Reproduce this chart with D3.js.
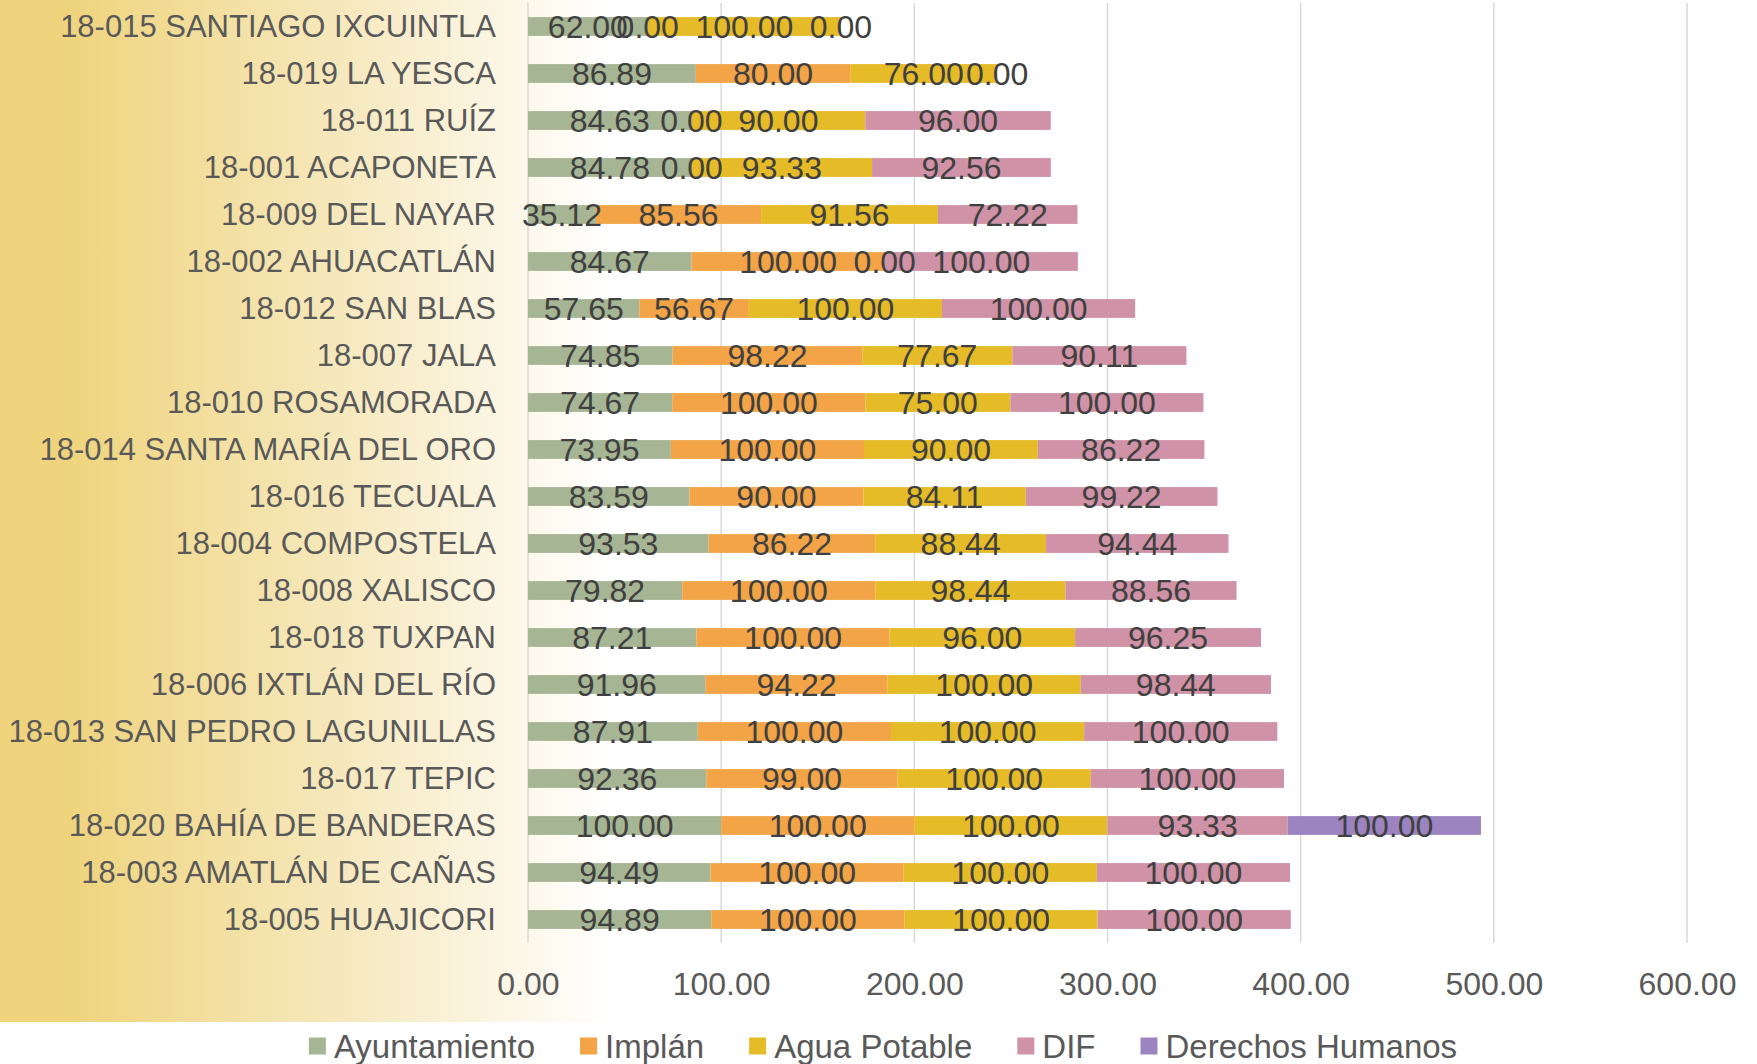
<!DOCTYPE html>
<html>
<head>
<meta charset="utf-8">
<script src="https://cdn.jsdelivr.net/npm/d3@7"></script>
<style>
  html, body { margin: 0; padding: 0; background: #ffffff; }
  svg { display: block; font-family: "Liberation Sans", Arial, sans-serif; }
</style>
</head>
<body>
<svg id="chart" width="1757" height="1064"></svg>
<script>
const categories = [
  "18-015 SANTIAGO IXCUINTLA",
  "18-019 LA YESCA",
  "18-011 RUÍZ",
  "18-001 ACAPONETA",
  "18-009 DEL NAYAR",
  "18-002 AHUACATLÁN",
  "18-012 SAN BLAS",
  "18-007 JALA",
  "18-010 ROSAMORADA",
  "18-014 SANTA MARÍA DEL ORO",
  "18-016 TECUALA",
  "18-004 COMPOSTELA",
  "18-008 XALISCO",
  "18-018 TUXPAN",
  "18-006 IXTLÁN DEL RÍO",
  "18-013 SAN PEDRO LAGUNILLAS",
  "18-017 TEPIC",
  "18-020 BAHÍA DE BANDERAS",
  "18-003 AMATLÁN DE CAÑAS",
  "18-005 HUAJICORI"
];

const seriesNames = ["Ayuntamiento", "Implán", "Agua Potable", "DIF", "Derechos Humanos"];
const seriesColors = ["#A6B594", "#F2A446", "#E5BB28", "#D092A6", "#9C84C1"];

const ayuntamiento = [62.00, 86.89, 84.63, 84.78, 35.12, 84.67, 57.65, 74.85, 74.67, 73.95, 83.59, 93.53, 79.82, 87.21, 91.96, 87.91, 92.36, 100.00, 94.49, 94.89];
const implan       = [0.00, 80.00, 0.00, 0.00, 85.56, 100.00, 56.67, 98.22, 100.00, 100.00, 90.00, 86.22, 100.00, 100.00, 94.22, 100.00, 99.00, 100.00, 100.00, 100.00];
const aguaPotable  = [100.00, 76.00, 90.00, 93.33, 91.56, 0.00, 100.00, 77.67, 75.00, 90.00, 84.11, 88.44, 98.44, 96.00, 100.00, 100.00, 100.00, 100.00, 100.00, 100.00];
const dif          = [0.00, 0.00, 96.00, 92.56, 72.22, 100.00, 100.00, 90.11, 100.00, 86.22, 99.22, 94.44, 88.56, 96.25, 98.44, 100.00, 100.00, 93.33, 100.00, 100.00];
const derechosHumanos = [null, null, null, null, null, null, null, null, null, null, null, null, null, null, null, null, null, 100.00, null, null];

const tickValues = [0, 100, 200, 300, 400, 500, 600];

const seriesValues = [ayuntamiento, implan, aguaPotable, dif, derechosHumanos];

const svg = d3.select("#chart");

// background gradient panel
const defs = svg.append("defs");
const grad = defs.append("linearGradient").attr("id", "bgGrad")
  .attr("x1", "0").attr("x2", "1").attr("y1", "0").attr("y2", "0");
grad.append("stop").attr("offset", "0").attr("stop-color", "#EFD47D");
grad.append("stop").attr("offset", "0.11").attr("stop-color", "#EFD47D");
grad.append("stop").attr("offset", "0.55").attr("stop-color", "#F6E8BC");
grad.append("stop").attr("offset", "0.85").attr("stop-color", "#FCF7E8");
grad.append("stop").attr("offset", "1").attr("stop-color", "#FFFFFF");
svg.append("rect").attr("x", 0).attr("y", 0).attr("width", 610).attr("height", 1022)
  .attr("fill", "url(#bgGrad)");

const x = d3.scaleLinear().domain([0, 600]).range([528, 1687]);
const y = d3.scaleBand().domain(categories).range([3, 943]).paddingInner(0.6).paddingOuter(0.3);

// gridlines
svg.append("g").selectAll("line").data(tickValues).join("line")
  .attr("x1", d => x(d)).attr("x2", d => x(d))
  .attr("y1", 3).attr("y2", 943)
  .attr("stroke", "#D9D9D9").attr("stroke-width", 1.5);

// x tick labels via axis
const xAxis = d3.axisBottom(x).tickValues(tickValues).tickFormat(d => d3.format(".2f")(d)).tickSize(0).tickPadding(0);
const gx = svg.append("g").attr("transform", "translate(0,984)").call(xAxis);
gx.select(".domain").remove();
gx.selectAll("text").attr("font-size", 32).attr("fill", "#595959")
  .attr("font-family", "'Liberation Sans', Arial, sans-serif")
  .attr("dy", "0.35em").attr("y", 0);

// category labels via axis
const yAxis = d3.axisLeft(y).tickSize(0).tickPadding(0);
const gy = svg.append("g").attr("transform", "translate(496,0)").call(yAxis);
gy.select(".domain").remove();
gy.selectAll("text").attr("font-size", 31).attr("fill", "#595959")
  .attr("font-family", "'Liberation Sans', Arial, sans-serif")
  .attr("dy", "0.35em").attr("x", 0);

// stacked data
const rows = categories.map((c, i) => {
  const r = { cat: c };
  seriesNames.forEach((s, k) => { r[s] = seriesValues[k][i]; });
  return r;
});
const stack = d3.stack().keys(seriesNames).value((d, k) => d[k] == null ? 0 : d[k]);
const stacked = stack(rows);

const barsG = svg.append("g");
stacked.forEach((layer, k) => {
  barsG.append("g").selectAll("rect").data(layer.filter(d => d.data[seriesNames[k]] != null)).join("rect")
    .attr("x", d => x(d[0]))
    .attr("width", d => x(d[1]) - x(d[0]))
    .attr("y", d => y(d.data.cat))
    .attr("height", y.bandwidth())
    .attr("fill", seriesColors[k]);
});

// data labels
const labelsG = svg.append("g");
stacked.forEach((layer, k) => {
  labelsG.append("g").selectAll("text").data(layer.filter(d => d.data[seriesNames[k]] != null)).join("text")
    .attr("x", d => x((d[0] + d[1]) / 2))
    .attr("y", d => y(d.data.cat) + y.bandwidth() / 2)
    .attr("dy", "0.36em")
    .attr("text-anchor", "middle")
    .attr("font-size", 32)
    .attr("fill", "#404040")
    .text(d => d3.format(".2f")(d.data[seriesNames[k]]));
});

// legend
const legend = svg.append("g");
const items = legend.selectAll("g").data(seriesNames).join("g");
items.append("rect").attr("width", 17).attr("height", 17).attr("y", -8.5)
  .attr("fill", (d, i) => seriesColors[i]);
items.append("text").attr("x", 25).attr("dy", "0.35em")
  .attr("font-size", 33).attr("fill", "#595959").text(d => d);
const widths = [];
items.each(function() {
  widths.push(25 + this.querySelector("text").getComputedTextLength());
});
const gap = 45;
const total = d3.sum(widths) + gap * (widths.length - 1);
const start = 883 - total / 2;
items.attr("transform", (d, i) => {
  const tx = start + d3.sum(widths.slice(0, i)) + gap * i;
  return `translate(${tx},1046)`;
});
</script>
</body>
</html>
